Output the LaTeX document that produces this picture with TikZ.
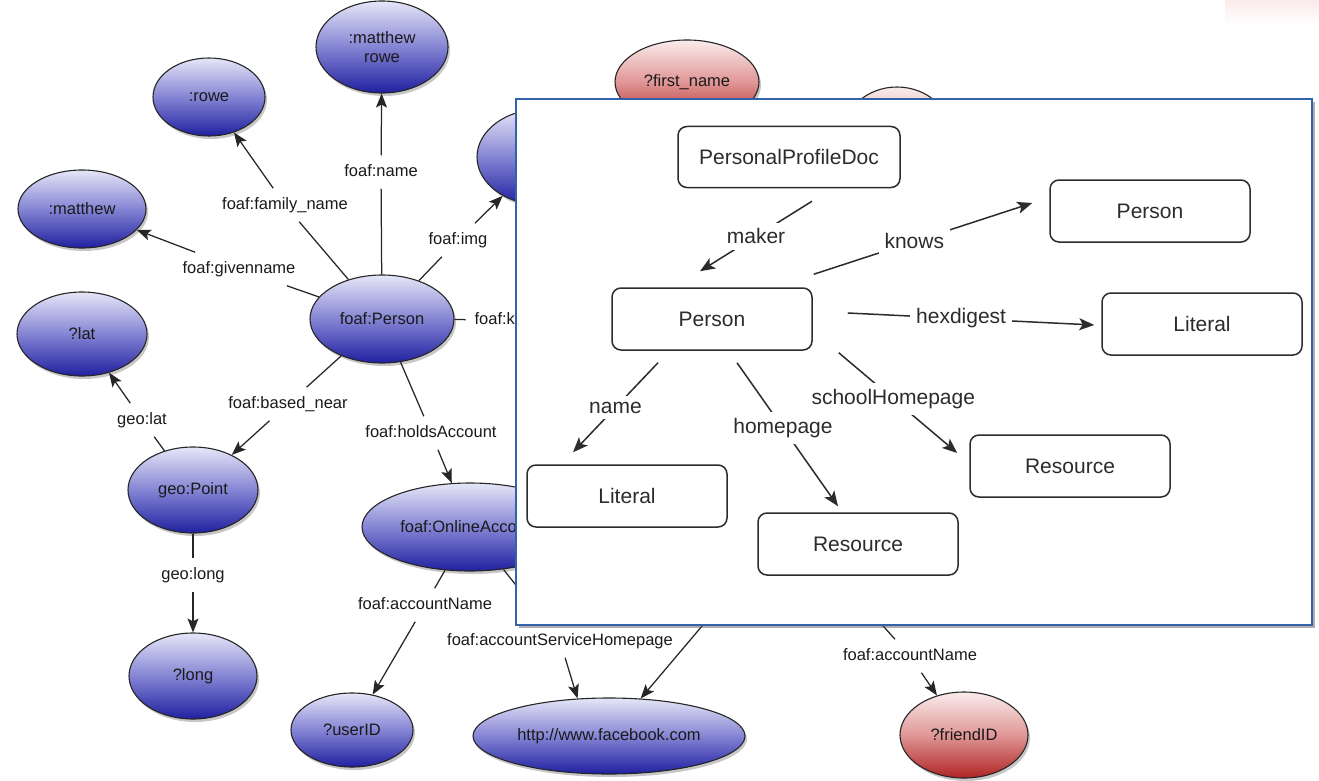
\documentclass[tikz,border=0pt]{standalone}
\usepackage{fontspec}
\setmainfont{Liberation Sans}
\usetikzlibrary{shapes.geometric,arrows.meta,shadows}

\definecolor{inktext}{HTML}{1A1A1A}
\definecolor{edgeink}{HTML}{262626}
\definecolor{bluetop}{RGB}{230,230,248}
\definecolor{bluemid}{RGB}{132,132,212}
\definecolor{bluebot}{RGB}{32,32,160}
\definecolor{redtop}{RGB}{250,236,236}
\definecolor{redmid}{RGB}{224,150,150}
\definecolor{redbot}{RGB}{176,36,36}
\definecolor{panelblue}{RGB}{50,98,168}
\definecolor{boxink}{HTML}{2C2C2C}
\definecolor{pinkhaze}{RGB}{250,234,234}

\tikzset{
  ball/.style={ellipse, draw=black!85, line width=1.1pt, inner sep=0pt,
    text=inktext, font=\fontsize{16.5}{18.5}\selectfont, align=center,
    drop shadow={shadow xshift=2pt, shadow yshift=-3pt, opacity=0.22, fill=black}},
  blueball/.style={ball, top color=bluetop, bottom color=bluebot, middle color=bluemid},
  redball/.style={ball, top color=redtop, bottom color=redbot, middle color=redmid},
  elab/.style={font=\fontsize{16.5}{18.5}\selectfont, text=inktext,
    text height=12pt, text depth=3.5pt, inner sep=2pt, outer sep=7pt},
  link/.style={draw=edgeink, line width=1.25pt},
  arr/.style={link, -{Stealth[length=14pt,width=11pt,inset=3pt]}},
  panel/.style={rectangle, draw=panelblue, line width=2.5pt, fill=white,
    drop shadow={shadow xshift=3pt, shadow yshift=-3pt, opacity=0.45, fill=black!70}},
  cls/.style={rectangle, rounded corners=9pt, draw=boxink, line width=1.5pt,
    minimum width=200pt, minimum height=62pt,
    font=\fontsize{21}{24}\selectfont, text=boxink},
  ilab/.style={fill=white, inner sep=6pt, font=\fontsize{21}{24}\selectfont, text=boxink},
  iarr/.style={draw=boxink, line width=1.5pt, -{Stealth[length=15pt,width=12pt,inset=3.5pt]}},
}

\begin{document}
\begin{tikzpicture}[x=1pt, y=-1pt]
\useasboundingbox (0,0) rectangle (1319,781);

% faint haze along the top right edge
\shade[top color=pinkhaze, bottom color=white] (1225,0) rectangle (1319,24);

% ---------- FOAF query graph ----------
\node[redball, minimum width=108pt, minimum height=96pt] (redb) at (897,135) {};
\node[redball, minimum width=144pt, minimum height=84pt] (firstname) at (687,82) {?first\_name};
\node[blueball, minimum width=130pt, minimum height=96pt] (img) at (542,157) {};
\node[blueball, minimum width=132pt, minimum height=92pt] (mrowe) at (382,47) {:matthew\\rowe};
\node[blueball, minimum width=112pt, minimum height=78pt] (rowe) at (209,97) {:rowe};
\node[blueball, minimum width=128pt, minimum height=78pt] (matthew) at (82,209) {:matthew};
\node[blueball, minimum width=130pt, minimum height=84pt] (lat) at (82,334) {?lat};
\node[blueball, minimum width=144pt, minimum height=88pt] (person) at (382,319) {foaf:Person};
\node[blueball, minimum width=130pt, minimum height=86pt] (geopoint) at (193,490) {geo:Point};
\node[blueball, minimum width=128pt, minimum height=86pt] (long) at (193,676) {?long};
\node[blueball, minimum width=216pt, minimum height=88pt] (account) at (470,527) {foaf:OnlineAccount};
\node[blueball, minimum width=122pt, minimum height=74pt] (userid) at (352,730) {?userID};
\node[blueball, minimum width=272pt, minimum height=76pt] (fb) at (609,736) {http://www.facebook.com};
\node[redball, minimum width=128pt, minimum height=86pt] (friendid) at (964,735) {?friendID};
\coordinate (friendacc) at (790,522);

% property labels
\node[elab] (lname) at (381,172) {foaf:name};
\node[elab] (lfamily) at (285,205) {foaf:family\_name};
\node[elab] (lgiven) at (239,269) {foaf:givenname};
\node[elab] (limg) at (458,240) {foaf:img};
\node[elab] (lknows) at (514,320) {foaf:knows};
\node[elab] (lbased) at (288,404) {foaf:based\_near};
\node[elab] (lholds) at (431,433) {foaf:holdsAccount};
\node[elab] (lgeolat) at (142,420) {geo:lat};
\node[elab] (lgeolong) at (193,575) {geo:long};
\node[elab] (laccname) at (425,605) {foaf:accountName};
\node[elab] (lservice) at (560,641) {foaf:accountServiceHomepage};
\node[elab] (lfriendname) at (910,656) {foaf:accountName};

% property edges
\draw[link] (person) -- (lname);    \draw[arr] (lname) -- (mrowe);
\draw[link] (person) -- (lfamily);  \draw[arr] (lfamily) -- (rowe);
\draw[link] (person) -- (lgiven);   \draw[arr] (lgiven) -- (matthew);
\draw[link] (person) -- (limg);     \draw[arr] (limg) -- (img);
\draw[link] (person) -- (lknows);
\draw[link] (person) -- (lbased);   \draw[arr] (lbased) -- (geopoint);
\draw[link] (person) -- (lholds);   \draw[arr] (lholds) -- (account);
\draw[link] (geopoint) -- (lgeolat);  \draw[arr] (lgeolat) -- (lat);
\draw[link] (geopoint) -- (lgeolong); \draw[arr] (lgeolong) -- (long);
\draw[link] (account) -- (laccname);  \draw[arr] (laccname) -- (userid);
\draw[link] (account) -- (lservice);  \draw[arr] (lservice) -- (fb.130);
\draw[arr] (friendacc) -- (fb);
\draw[link] (friendacc) -- (lfriendname); \draw[arr] (lfriendname) -- (friendid);

% ---------- FOAF schema panel ----------
\node[panel, minimum width=796pt, minimum height=526pt] (panel) at (914,362) {};

\node[cls, minimum width=222pt, minimum height=61pt] (ppd) at (789,157) {PersonalProfileDoc};
\node[cls] (pers) at (712,319) {Person};
\node[cls] (pers2) at (1150,211) {Person};
\node[cls] (lit2) at (1202,324) {Literal};
\node[cls] (res2) at (1070,466) {Resource};
\node[cls] (lit1) at (627,496) {Literal};
\node[cls] (res1) at (858,544) {Resource};

\draw[iarr] ([xshift=23pt,yshift=-13pt]ppd.south) -- node[ilab]{maker} ([xshift=-12pt,yshift=16pt]pers.north);
\draw[iarr] ([xshift=1pt,yshift=13pt]pers.north east) -- node[ilab,pos=0.46]{knows} ([xshift=-17pt,yshift=8pt]pers2.west);
\draw[iarr] ([xshift=35pt,yshift=6pt]pers.east) -- node[ilab,pos=0.46]{hexdigest} ([xshift=-7pt,yshift=-1pt]lit2.west);
\draw[iarr] ([xshift=-54pt,yshift=-12pt]pers.south) -- node[ilab]{name} ([xshift=-54pt,yshift=12pt]lit1.north);
\draw[iarr] ([xshift=25pt,yshift=-12pt]pers.south) -- node[ilab,pos=0.455]{homepage} ([xshift=-20pt,yshift=6pt]res1.north);
\draw[iarr] ([xshift=26pt,yshift=-2pt]pers.south east) -- node[ilab,pos=0.46]{schoolHomepage} ([xshift=-12pt,yshift=13pt]res2.west);
\end{tikzpicture}
\end{document}
